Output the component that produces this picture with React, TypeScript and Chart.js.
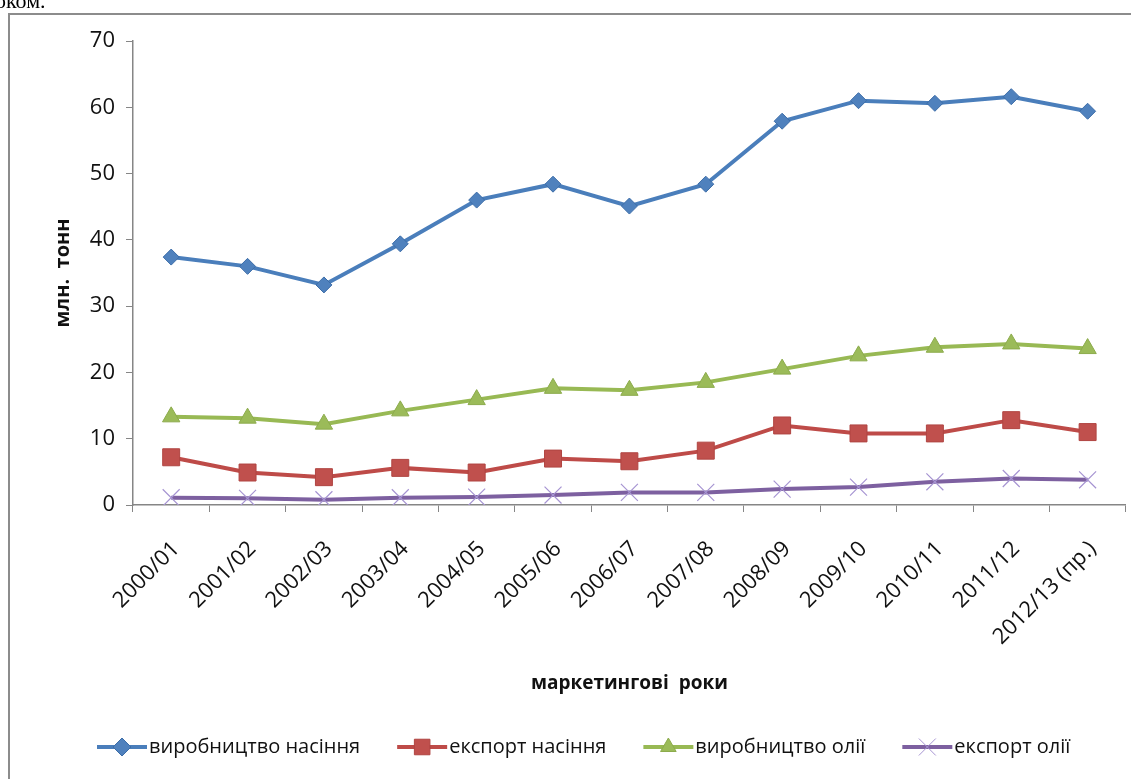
import React, { useEffect, useRef } from "react";
import { Chart, registerables } from "chart.js";

Chart.register(...registerables);

const categories = [
  "2000/01", "2001/02", "2002/03", "2003/04", "2004/05", "2005/06", "2006/07",
  "2007/08", "2008/09", "2009/10", "2010/11", "2011/12", "2012/13 (пр.)",
];
const seedProduction = [37.4, 36.0, 33.2, 39.4, 46.0, 48.4, 45.1, 48.4, 57.9, 61.0, 60.6, 61.6, 59.4];
const seedExport = [7.2, 4.9, 4.2, 5.6, 4.9, 7.0, 6.6, 8.2, 12.0, 10.8, 10.8, 12.8, 11.0];
const oilProduction = [13.3, 13.1, 12.2, 14.2, 15.9, 17.6, 17.3, 18.5, 20.5, 22.5, 23.8, 24.3, 23.6];
const oilExport = [1.1, 1.0, 0.8, 1.1, 1.2, 1.5, 1.9, 1.9, 2.4, 2.7, 3.5, 4.0, 3.8];
const seriesNames = ["виробництво насіння", "експорт насіння", "виробництво олії", "експорт олії"];
const yTitle = "млн.  тонн";
const xTitle = "маркетингові  роки";

const FONT = '"Open Sans", "DejaVu Sans", sans-serif';

function drawMarker(ctx: CanvasRenderingContext2D, style: string, x: number, y: number, r: number, fill: string, stroke: string) {
  ctx.save();
  ctx.fillStyle = fill;
  ctx.strokeStyle = stroke;
  ctx.lineWidth = 1;
  ctx.beginPath();
  if (style === "rectRot") {
    ctx.moveTo(x, y - r); ctx.lineTo(x + r, y); ctx.lineTo(x, y + r); ctx.lineTo(x - r, y); ctx.closePath();
    ctx.fill(); ctx.stroke();
  } else if (style === "rect") {
    const s = r * Math.SQRT1_2;
    ctx.rect(x - s, y - s, 2 * s, 2 * s); ctx.fill(); ctx.stroke();
  } else if (style === "triangle") {
    ctx.moveTo(x, y - r); ctx.lineTo(x + r * 0.866, y + r * 0.5); ctx.lineTo(x - r * 0.866, y + r * 0.5); ctx.closePath();
    ctx.fill(); ctx.stroke();
  } else {
    const d = r * Math.SQRT1_2;
    ctx.moveTo(x - d, y - d); ctx.lineTo(x + d, y + d);
    ctx.moveTo(x + d, y - d); ctx.lineTo(x - d, y + d);
    ctx.stroke();
  }
  ctx.restore();
}

const legendPlugin = {
  id: "lineLegend",
  afterDraw(chart: any) {
    const ctx: CanvasRenderingContext2D = chart.ctx;
    ctx.save();
    ctx.font = `20px ${FONT}`;
    ctx.textBaseline = "middle";
    ctx.textAlign = "left";
    let x = 87;
    const y = 732;
    chart.data.datasets.forEach((ds: any) => {
      ctx.strokeStyle = ds.borderColor;
      ctx.lineWidth = 4;
      ctx.beginPath();
      ctx.moveTo(x, y);
      ctx.lineTo(x + 50, y);
      ctx.stroke();
      drawMarker(ctx, ds.pointStyle, x + 25, y, ds.pointStyle === "crossRot" ? 12 : ds.pointStyle === "rect" ? 11 : 9, ds.pointBackgroundColor, ds.pointBorderColor);
      ctx.fillStyle = "#111";
      ctx.fillText(ds.label, x + 52, y);
      x += 52 + ctx.measureText(ds.label).width + 37;
    });
    ctx.restore();
  },
};

export default function App() {
  const ref = useRef<HTMLCanvasElement | null>(null);
  useEffect(() => {
    if (!ref.current) return;
    const axisColor = "#868686";
    const chart = new Chart(ref.current, {
      type: "line",
      data: {
        labels: categories,
        datasets: [
          {
            label: seriesNames[0], data: seedProduction, borderColor: "#4A7EBB", borderWidth: 4,
            pointStyle: "rectRot", pointRadius: 8, pointBackgroundColor: "#4F81BD", pointBorderColor: "#3C6DA8", pointBorderWidth: 1,
            tension: 0,
          },
          {
            label: seriesNames[1], data: seedExport, borderColor: "#BE4B48", borderWidth: 4,
            pointStyle: "rect", pointRadius: 12, pointBackgroundColor: "#C0504D", pointBorderColor: "#B04542", pointBorderWidth: 1,
            tension: 0,
          },
          {
            label: seriesNames[2], data: oilProduction, borderColor: "#98B954", borderWidth: 4,
            pointStyle: "triangle", pointRadius: 10, pointBackgroundColor: "#9BBB59", pointBorderColor: "#8CAB4C", pointBorderWidth: 1,
            tension: 0,
          },
          {
            label: seriesNames[3], data: oilExport, borderColor: "#7D60A0", borderWidth: 4,
            pointStyle: "crossRot", pointRadius: 12, pointBackgroundColor: "#A28FD0", pointBorderColor: "#A694D2", pointBorderWidth: 1.2,
            tension: 0,
          },
        ],
      },
      options: {
        responsive: false,
        devicePixelRatio: 1,
        animation: false,
        layout: { padding: { left: 37, top: 26, right: 12, bottom: 80 } },
        plugins: { legend: { display: false }, tooltip: { enabled: false } },
        scales: {
          x: {
            type: "category",
            offset: true,
            grid: { offset: true, drawOnChartArea: false, drawTicks: true, tickLength: 7, color: axisColor },
            border: { display: true, color: axisColor, width: 1.5 },
            ticks: { autoSkip: false, minRotation: 45, maxRotation: 45, padding: 24, labelOffset: 5, color: "#111", font: { family: FONT, size: 22 } },
            title: { display: true, text: xTitle, color: "#111", font: { family: FONT, size: 19, weight: "bold" } },
            afterFit: (scale: any) => { scale.height = 194; },
          },
          y: {
            min: 0, max: 70,
            grid: { drawOnChartArea: false, drawTicks: true, tickLength: 7, color: axisColor },
            border: { display: true, color: axisColor, width: 1.5 },
            ticks: { stepSize: 10, padding: 11, color: "#111", font: { family: FONT, size: 22 } },
            title: { display: true, text: yTitle, color: "#111", font: { family: FONT, size: 20, weight: "bold" } },
            afterFit: (scale: any) => { scale.width = 86; },
          },
        },
      },
      plugins: [legendPlugin],
    } as any);
    return () => chart.destroy();
  }, []);

  return (
    <>
      <style>{`html,body{overflow:hidden}`}</style>
      <div style={{ position: "fixed", top: -12, left: -16, fontFamily: '"Liberation Serif", "DejaVu Serif", serif', fontSize: 22, color: "#000", whiteSpace: "nowrap" }}>
        роком.
      </div>
      <div style={{ marginTop: 5, width: 1131, height: 766, borderLeft: "2px solid #8c8c8c", borderTop: "2px solid #8c8c8c", boxSizing: "border-box", background: "#fff" }}>
        <canvas ref={ref} width={1129} height={764} style={{ display: "block", width: 1129, height: 764 }} />
      </div>
    </>
  );
}
